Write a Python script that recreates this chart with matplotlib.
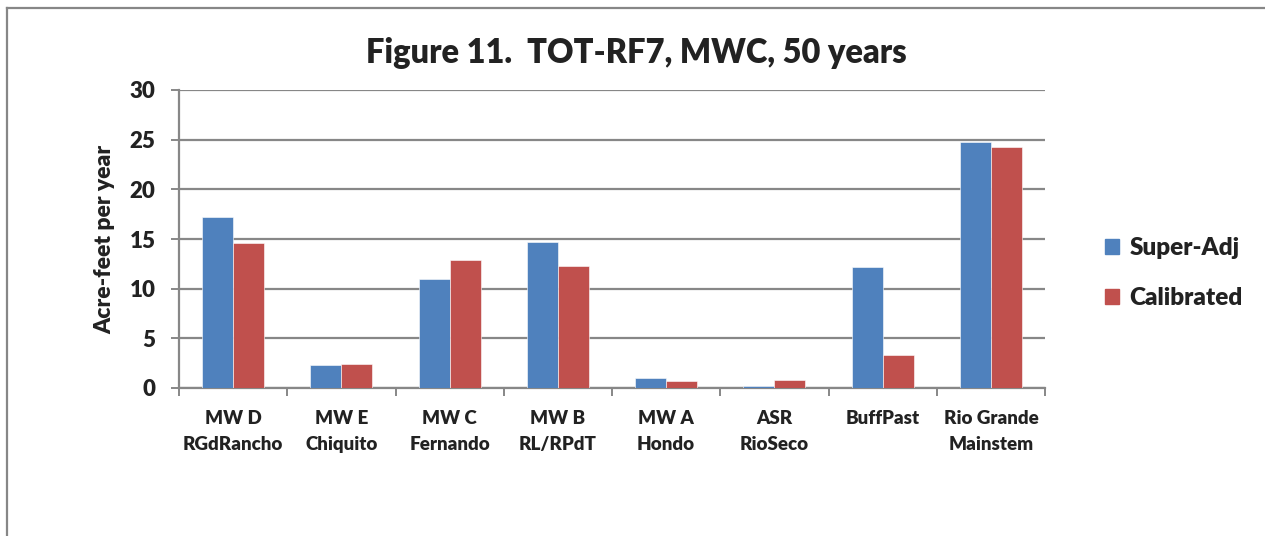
import matplotlib
matplotlib.use("Agg")
import matplotlib.pyplot as plt
import numpy as np
from matplotlib.lines import Line2D

plt.rcParams["font.family"] = ["Lato", "DejaVu Sans"]
plt.rcParams["font.weight"] = "heavy"

categories = ["MW D\nRGdRancho", "MW E\nChiquito", "MW C\nFernando",
              "MW B\nRL/RPdT", "MW A\nHondo", "ASR\nRioSeco",
              "BuffPast", "Rio Grande\nMainstem"]
super_adj = [17.2, 2.3, 11.0, 14.7, 1.0, 0.2, 12.2, 24.8]
calibrated = [14.6, 2.4, 12.9, 12.3, 0.7, 0.8, 3.3, 24.3]
series_names = ["Super-Adj", "Calibrated"]
colors = ["#4F81BD", "#C0504D"]
grey = "#878787"
ink = "#222222"
wt = "heavy"

fig = plt.figure(figsize=(12.65, 5.36), dpi=100)
ax = fig.add_axes([179 / 1265, 1 - 388 / 536, 866 / 1265, 298 / 536])

x = np.arange(len(categories))
w = 0.286
ax.bar(x - w / 2, super_adj, w, color=colors[0], edgecolor="white",
       linewidth=0.4, zorder=3)
ax.bar(x + w / 2, calibrated, w, color=colors[1], edgecolor="white",
       linewidth=0.4, zorder=3)

ax.set_xlim(-0.5, len(categories) - 0.5)
ax.set_ylim(0, 30)
ax.set_yticks(range(0, 31, 5))
ax.yaxis.grid(True, color=grey, linewidth=1.6, zorder=0)

# category ticks sit between the groups
ax.set_xticks(np.arange(-0.5, len(categories), 1.0))
ax.set_xticklabels([])
ax.set_xticks(x, minor=True)
ax.set_xticklabels(categories, minor=True, fontsize=13.5,
                   fontweight=wt, color=ink, linespacing=1.62)
ax.tick_params(axis="x", which="major", length=6, width=1.4, color=grey,
               direction="out")
ax.tick_params(axis="x", which="minor", length=0, pad=16)
ax.tick_params(axis="y", length=6, width=1.4, color=grey, labelsize=16,
               labelcolor=ink, pad=11)
for lbl in ax.get_yticklabels():
    lbl.set_fontweight(wt)

for side in ["top", "right"]:
    ax.spines[side].set_visible(False)
for side in ["left", "bottom"]:
    ax.spines[side].set_color(grey)
    ax.spines[side].set_linewidth(1.6)

ax.set_ylabel("Acre-feet per year", fontsize=16.5, fontweight=wt,
              color=ink, labelpad=10)

fig.text(636 / 1265, 1 - 53 / 536, "Figure 11.  TOT-RF7, MWC, 50 years",
         ha="center", va="center", fontsize=23.5, fontweight=wt,
         color=ink)

handles = [plt.Rectangle((0, 0), 1, 1, color=c) for c in colors]
fig.legend(handles, series_names, loc="center left",
           bbox_to_anchor=(1083 / 1265, 1 - 273 / 536), frameon=False,
           handlelength=0.6, handleheight=0.6,
           handletextpad=0.4, labelspacing=1.15,
           prop={"weight": wt, "size": 17.5})
for t in fig.legends[0].get_texts():
    t.set_color(ink)

# outer chart border: top and left edges only
fig.add_artist(Line2D([7 / 1265, 1], [1 - 8 / 536, 1 - 8 / 536],
                      color=grey, linewidth=1.6))
fig.add_artist(Line2D([7 / 1265, 7 / 1265], [0, 1 - 8 / 536],
                      color=grey, linewidth=1.6))

fig.savefig("out.png", dpi=100)
